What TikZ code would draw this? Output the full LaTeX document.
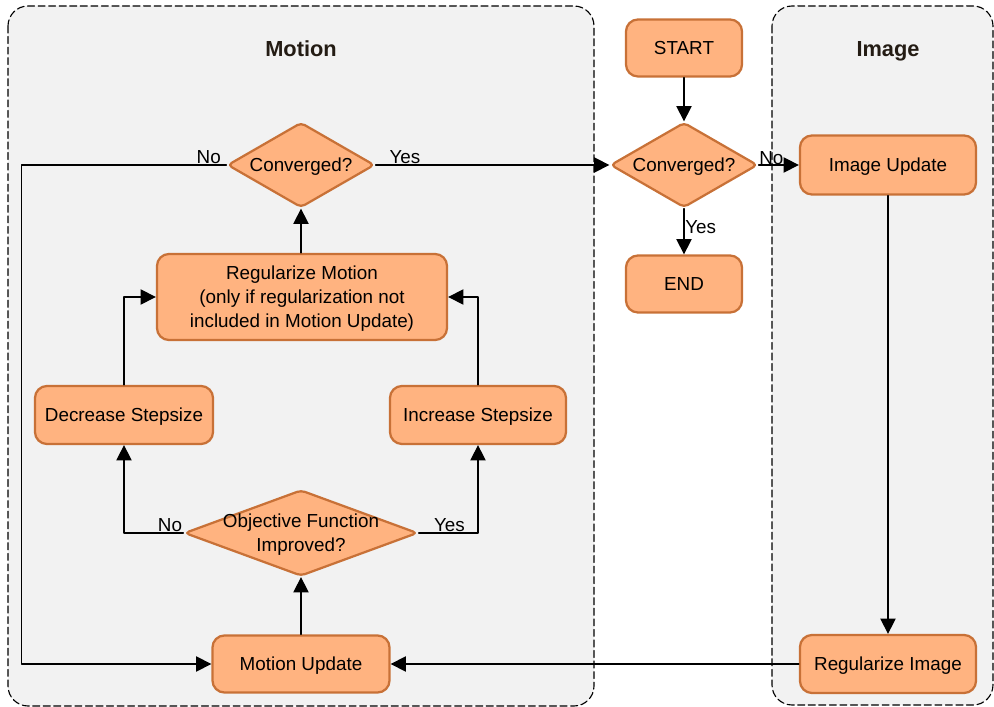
\documentclass[tikz,border=0pt]{standalone}
\usepackage{fontspec}
\setmainfont{Liberation Sans}
\usetikzlibrary{shapes.geometric,arrows.meta}
\definecolor{boxfill}{RGB}{255,179,128}
\definecolor{boxline}{RGB}{200,113,55}
\definecolor{panelfill}{RGB}{242,242,242}
\definecolor{titletext}{RGB}{36,28,20}
\begin{document}
\begin{tikzpicture}[x=0.025cm, y=-0.025cm, line cap=round, line join=round,
	panel/.style={draw=black, dash pattern=on 5pt off 2.5pt, fill=panelfill, rounded corners=0.5cm, line width=0.8pt},
	title/.style={font=\fontsize{15.5}{18}\selectfont\bfseries, text=titletext, text height=11pt, text depth=3pt},
	box/.style={draw=boxline, fill=boxfill, line width=1.6pt, rounded corners=0.3cm, align=center, text depth=0pt, font=\fontsize{13.4}{17}\selectfont},
	dec/.style={draw=boxline, fill=boxfill, line width=1.6pt, diamond, inner sep=0pt, rounded corners=3pt},
	dectext/.style={align=center, text depth=0pt, font=\fontsize{13.4}{17}\selectfont},
	arr/.style={line width=0.9pt, -{Triangle[length=0.38cm, width=0.38cm]}},
	lbl/.style={font=\fontsize{13.4}{16}\selectfont, inner sep=0.5pt, text depth=0pt}]
	\useasboundingbox (0,0) rectangle (994,707);
	% swimlanes
	\draw[panel] (8,6) rectangle (594,706);
	\draw[panel] (772,6) rectangle (993,705);
	\node[title] (tmotion) at (301,51) {Motion};
	\node[title] (timage) at (888,51) {Image};
	% outer loop
	\node[box, minimum width=2.9cm, minimum height=1.425cm] (start) at (684,48) {START};
	\node[dec, minimum width=3.675cm, minimum height=2.125cm, label={[dectext]center:Converged?}] (conv) at (684,165) {};
	\node[box, minimum width=2.9cm, minimum height=1.425cm] (end) at (684,284) {END};
	\node[box, minimum width=4.4cm, minimum height=1.475cm] (imupd) at (888,165) {Image Update};
	\node[box, minimum width=4.4cm, minimum height=1.45cm] (imreg) at (888,664) {Regularize Image};
	% motion lane
	\node[dec, minimum width=3.675cm, minimum height=2.125cm, label={[dectext]center:Converged?}] (mconv) at (301,165) {};
	\node[box, minimum width=7.25cm, minimum height=2.15cm] (mreg) at (302,297) {Regularize Motion\\(only if regularization not\\included in Motion Update)};
	\node[box, minimum width=4.45cm, minimum height=1.45cm] (decr) at (124,415) {Decrease Stepsize};
	\node[box, minimum width=4.4cm, minimum height=1.45cm] (incr) at (478,415) {Increase Stepsize};
	\node[dec, minimum width=5.825cm, minimum height=2.15cm, label={[dectext]center:Objective Function\\Improved?}] (obj) at (301,533) {};
	\node[box, minimum width=4.425cm, minimum height=1.425cm] (mupd) at (301,664) {Motion Update};
	% connectors
	\draw[arr] (start) -- (conv);
	\draw[arr] (conv) -- node[lbl, right, pos=0.4] {Yes} (end);
	\draw[arr] (conv.east) -- node[lbl, above right, pos=0, inner sep=0pt] {No} (imupd.west);
	\draw[arr] (imupd) -- (imreg);
	\draw[arr] (imreg) -- (mupd);
	\draw[arr] (mupd) -- (obj);
	\draw[arr] (obj.west) -| node[lbl, above left, pos=0] {No} (decr.south);
	\draw[arr] (obj.east) -| node[lbl, above right, pos=0, xshift=10pt] {Yes} (incr.south);
	\draw[arr] (decr.north) |- (mreg.west);
	\draw[arr] (incr.north) |- (mreg.east);
	\draw[arr] (mreg.north -| mconv.south) -- (mconv.south);
	\draw[arr] (mconv.west) -- node[lbl, above left, pos=0, xshift=-3pt] {No} ++(-205,0) |- (mupd.west);
	\draw[arr] (mconv.east) -- node[lbl, above right, pos=0, xshift=9pt] {Yes} (conv.west);
\end{tikzpicture}
\end{document}
